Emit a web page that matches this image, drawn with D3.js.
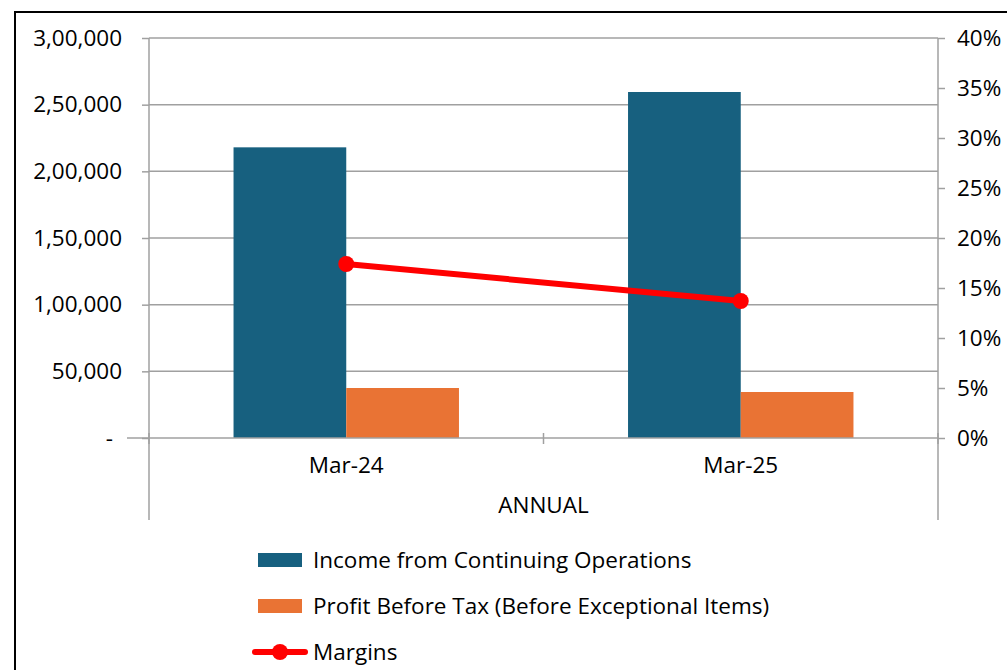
<!DOCTYPE html>
<html lang="en">
<head>
<meta charset="UTF-8">
<title>Annual</title>
<script src="https://cdn.jsdelivr.net/npm/d3@7"></script>
<style>
    body { margin: 0; background: #fff; }
    text { font-family: "Open Sans", sans-serif; fill: #000; }
    .grid line { stroke: #a0a0a0; stroke-width: 1.5; }
</style>
</head>
<body>
<svg width="1007" height="670"></svg>
<script>
    // data
    var categories = ["Mar-24", "Mar-25"];
    var income = [218000, 259500];
    var pbt = [37500, 34500];
    var margins = [17.4, 13.7];
    var leftTicks = [0, 50000, 100000, 150000, 200000, 250000, 300000];
    var rightTicks = [0, 5, 10, 15, 20, 25, 30, 35, 40];
    var seriesNames = ["Income from Continuing Operations", "Profit Before Tax (Before Exceptional Items)", "Margins"];
    var colors = ["#17607f", "#e97334", "#ff0000"];

    var svg = d3.select("svg");
    var fs = "22.5px";
    var pLeft = 149, pRight = 938, pTop = 38, pBottom = 438;

    // outer frame
    svg.append("rect").attr("x", 15).attr("y", 12).attr("width", 1100).attr("height", 700)
        .attr("fill", "none").attr("stroke", "#000").attr("stroke-width", 2);

    var x = d3.scaleBand().domain(categories).range([pLeft, pRight]);
    var inner = d3.scaleBand().domain([0, 1]).range([0, x.bandwidth()]).paddingInner(0).paddingOuter(0.75);
    var y = d3.scaleLinear().domain([0, 300000]).range([pBottom, pTop]);
    var y2 = d3.scaleLinear().domain([0, 40]).range([pBottom, pTop]);

    // indian format
    function inr(v) {
        if (v === 0) return "-";
        var s = String(v);
        var last3 = s.slice(-3), rest = s.slice(0, -3);
        if (rest.length) rest = rest.replace(/\B(?=(\d{2})+(?!\d))/g, ",") + ",";
        return rest + last3;
    }

    // gridlines
    svg.append("g").attr("class", "grid")
        .selectAll("line").data(leftTicks.slice(1)).enter().append("line")
        .attr("x1", pLeft).attr("x2", pRight)
        .attr("y1", function(d) { return y(d); }).attr("y2", function(d) { return y(d); });

    // left axis
    var ly = svg.append("g").attr("transform", "translate(" + pLeft + ",0)")
        .call(d3.axisLeft(y).tickValues(leftTicks).tickFormat(inr).tickSize(7).tickPadding(20));
    ly.select(".domain").attr("stroke", "#a0a0a0").attr("stroke-width", 1.5).attr("d", "M0," + pTop + "V520");
    ly.selectAll(".tick line").attr("stroke", "#a0a0a0").attr("stroke-width", 1.5);
    ly.selectAll(".tick text").style("font-size", fs);
    ly.selectAll(".tick").filter(function(d) { return d === 0; }).select("text").attr("dx", -9);

    // right axis
    var ry = svg.append("g").attr("transform", "translate(" + pRight + ",0)")
        .call(d3.axisRight(y2).tickValues(rightTicks).tickFormat(function(d) { return d + "%"; }).tickSize(7).tickPadding(12));
    ry.select(".domain").attr("stroke", "#a0a0a0").attr("stroke-width", 1.5).attr("d", "M0," + pTop + "V520");
    ry.selectAll(".tick line").attr("stroke", "#a0a0a0").attr("stroke-width", 1.5);
    ry.selectAll(".tick text").style("font-size", fs);

    // bars
    var bars = svg.append("g");
    bars.selectAll(".inc").data(income).enter().append("rect")
        .attr("x", function(d, i) { return x(categories[i]) + inner(0); })
        .attr("width", inner.bandwidth())
        .attr("y", function(d) { return y(d); })
        .attr("height", function(d) { return pBottom - y(d); })
        .attr("fill", colors[0]);
    bars.selectAll(".pbt").data(pbt).enter().append("rect")
        .attr("x", function(d, i) { return x(categories[i]) + inner(1); })
        .attr("width", inner.bandwidth())
        .attr("y", function(d) { return y(d); })
        .attr("height", function(d) { return pBottom - y(d); })
        .attr("fill", colors[1]);

    // x axis
    var xb = svg.append("g").attr("transform", "translate(0," + pBottom + ")");
    xb.append("line").attr("x1", pLeft - 22).attr("x2", pRight).attr("stroke", "#a0a0a0").attr("stroke-width", 1.5);
    xb.selectAll(".ct").data(categories.concat([null])).enter().append("line")
        .attr("x1", function(d, i) { return pLeft + i * x.bandwidth(); })
        .attr("x2", function(d, i) { return pLeft + i * x.bandwidth(); })
        .attr("y1", -5).attr("y2", 6)
        .attr("stroke", "#a0a0a0").attr("stroke-width", 1.5);
    xb.selectAll(".cl").data(categories).enter().append("text")
        .attr("x", function(d) { return x(d) + x.bandwidth() / 2; })
        .attr("y", 35).attr("text-anchor", "middle").style("font-size", fs)
        .text(function(d) { return d; });
    xb.append("text").attr("x", (pLeft + pRight) / 2).attr("y", 75)
        .attr("text-anchor", "middle").style("font-size", fs).text("ANNUAL");

    // margins line
    var line = d3.line()
        .x(function(d, i) { return x(categories[i]) + x.bandwidth() / 2; })
        .y(function(d) { return y2(d); });
    svg.append("path").datum(margins).attr("d", line)
        .attr("fill", "none").attr("stroke", colors[2]).attr("stroke-width", 6);
    svg.selectAll(".pt").data(margins).enter().append("circle")
        .attr("cx", function(d, i) { return x(categories[i]) + x.bandwidth() / 2; })
        .attr("cy", function(d) { return y2(d); })
        .attr("r", 8).attr("fill", colors[2]);

    // legend
    var lg = svg.append("g").attr("transform", "translate(258,560)");
    seriesNames.forEach(function(name, i) {
        var g = lg.append("g").attr("transform", "translate(0," + (i * 46) + ")");
        if (i < 2) {
            g.append("rect").attr("x", 0).attr("y", -7).attr("width", 44).attr("height", 14).attr("fill", colors[i]);
        } else {
            g.append("line").attr("x1", -3).attr("x2", 47).attr("stroke", colors[2]).attr("stroke-width", 6).attr("stroke-linecap", "round");
            g.append("circle").attr("cx", 22).attr("r", 8).attr("fill", colors[2]);
        }
        g.append("text").attr("x", 55).attr("y", 8).style("font-size", fs).text(name);
    });
</script>
</body>
</html>
